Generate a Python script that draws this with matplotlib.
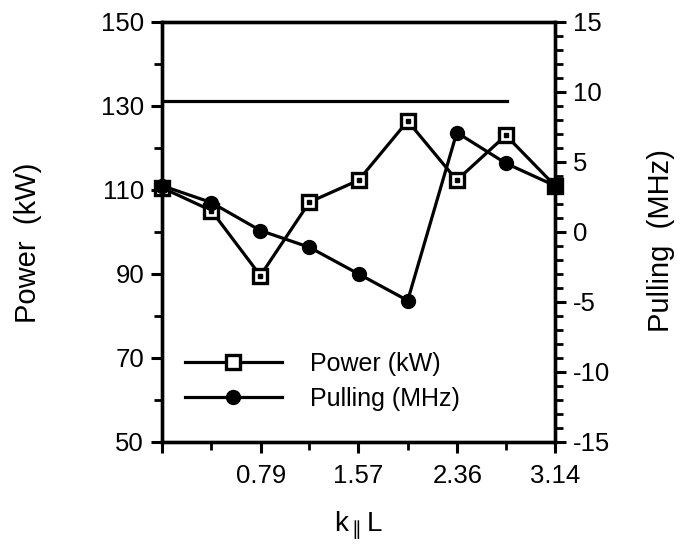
import numpy as np
import matplotlib.pyplot as plt
from matplotlib.ticker import MultipleLocator, FixedLocator

plt.rcParams['font.family'] = ['Liberation Sans', 'DejaVu Sans']
plt.rcParams['axes.unicode_minus'] = False

kL = np.pi / 8 * np.arange(9)
power = [110.5, 105.1, 89.6, 107.1, 112.3, 126.4, 112.3, 123.0, 111.0]
pulling = [3.3, 2.1, 0.1, -1.1, -3.0, -4.9, 7.1, 4.9, 3.3]
ref_level = 131.1
ref_x = [0, 2.76]
xtick_vals = [0.79, 1.57, 2.36, 3.14]

fig = plt.figure(figsize=(6.99, 5.47), dpi=100)
ax1 = fig.add_axes([0.232, 0.192, 0.562, 0.768])
ax2 = ax1.twinx()

lw = 2.3
ax1.plot(ref_x, [ref_level, ref_level], color='black', lw=lw)
p1, = ax1.plot(kL, power, color='black', lw=lw, marker='s', ms=10,
               mfc='white', mec='black', mew=2.4, label='Power (kW)', clip_on=False)
ax1.plot(kL, power, ls='none', marker='s', ms=2.2, color='black', clip_on=False)
p2, = ax2.plot(kL, pulling, color='black', lw=lw, marker='o', ms=10,
               label='Pulling (MHz)', clip_on=False)

ax1.set_xlim(0, np.pi)
ax1.set_ylim(50, 150)
ax2.set_ylim(-15, 15)

ax1.xaxis.set_major_locator(FixedLocator([0] + xtick_vals))
ax1.xaxis.set_minor_locator(FixedLocator(np.pi / 8 * np.array([1, 3, 5, 7])))
ax1.set_xticklabels([''] + ['%.2f' % v for v in xtick_vals])
ax1.yaxis.set_major_locator(FixedLocator(np.arange(50, 151, 20)))
ax1.yaxis.set_minor_locator(FixedLocator(np.arange(60, 150, 20)))
ax2.yaxis.set_major_locator(MultipleLocator(5))
ax2.yaxis.set_minor_locator(MultipleLocator(1))

for ax in (ax1, ax2):
    for s in ax.spines.values():
        s.set_linewidth(2.4)
    ax.tick_params(which='major', direction='out', length=8, width=2.2, labelsize=18.5, pad=5)
    ax.tick_params(which='minor', direction='out', length=5.5, width=2)
ax1.tick_params(axis='x', which='major', pad=8)

ax1.set_ylabel('Power  (kW)', fontsize=21)
ax1.yaxis.set_label_coords(-0.306, 0.475)
ax2.set_ylabel('Pulling  (MHz)', fontsize=21)
ax2.yaxis.set_label_coords(1.235, 0.48)
ax1.set_xlabel(r'k$_{\parallel}$L', fontsize=20)
ax1.xaxis.set_label_coords(0.5, -0.16)

ax1.legend([p1, p2], ['Power (kW)', 'Pulling (MHz)'], loc='lower left',
           bbox_to_anchor=(0.0, 0.02), frameon=False, fontsize=18,
           handlelength=3.9, handletextpad=1.1, labelspacing=0.45)

fig.savefig('out.png', dpi=100)
